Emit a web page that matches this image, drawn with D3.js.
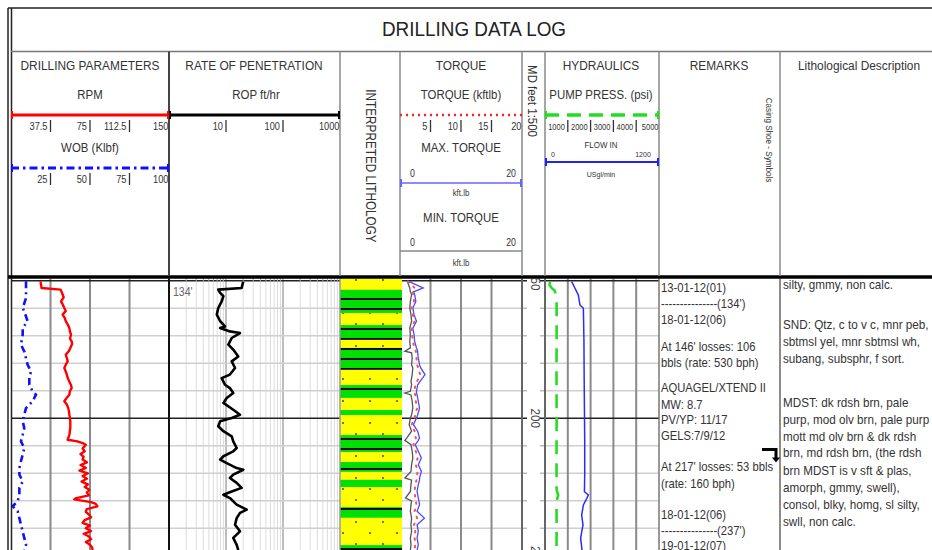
<!DOCTYPE html>
<html><head><meta charset="utf-8">
<script src="https://cdn.jsdelivr.net/npm/d3@7"></script>
<style>
body{margin:0;background:#fff;}
svg{display:block;font-family:'Liberation Sans','Arial',sans-serif;}
</style></head><body>
<svg id="c" width="932" height="550"></svg>
<script>
// ---------------- DATA ----------------
const title = "DRILLING DATA LOG";
const trackTitles = ["DRILLING PARAMETERS","RATE OF PENETRATION","TORQUE","HYDRAULICS","REMARKS","Lithological Description"];
const rpmTicks = [37.5, 75, 112.5, 150];
const wobTicks = [25, 50, 75, 100];
const ropTicks = [10, 100, 1000];
const torqueTicks = [5, 10, 15, 20];
const pumpTicks = [1000, 2000, 3000, 4000, 5000];
const depthLabels = [150, 200, 250];

// [depth ft, RPM]
const rpmData = [[150.2,28],[152.6,29],[153.2,47],[154,48],[155,49],[156,50],[157.5,47.5],[158.5,49],[159.9,50.6],[161,52],[162.3,49],[163.5,51],[164.7,52],[166,54],[167.2,55.4],[168.5,56],[169.6,57],[171,56],[172,57.6],[173,58],[174.4,56.3],[175.5,55],[176.9,52],[178,53],[179.3,53.8],[180.5,52],[181.7,50.6],[183,52],[184.1,53],[185.5,54],[186.6,55.4],[188,57],[189,57.6],[190,56],[191.4,55.4],[192.5,53],[193.8,50.6],[195,53],[196.3,54.4],[197.5,55],[198.7,55.4],[200,56],[201.1,56.3],[202.5,56.3],[203.5,56.3],[205,55.8],[206,55.4],[207.8,53.8],[208.4,63],[209,68],[209.6,71],[211,68],[212,70],[213,66],[214,69],[215,68],[216,72],[217,66],[218,71],[219,65],[220,73],[221,68],[222,72],[223,67],[224,73],[225,70],[226,74.4],[227,72],[228,74],[229,62],[229.5,60],[230.5,76],[231,80],[232,82],[233,72],[234,71],[235,74],[236,76],[237,70],[238,68],[239,75],[240,71],[241,76],[242,69],[243,74],[244,76],[245,71],[246,75],[247,77],[248,77.5]];
// [depth ft, WOB klbf]
const wobData = [[150.2,9.5],[156.3,9.5],[159.9,7.4],[161.1,8.4],[164.7,10.5],[167.2,7.4],[169.6,7.4],[173.2,6.3],[175.7,8.4],[178.1,9.5],[180.5,10.5],[182.9,12.7],[185.3,11.6],[187.8,11.6],[190.2,13.7],[191.4,15.8],[193.8,13.7],[196.3,9.5],[198.7,8.4],[201.1,7.4],[203.5,8.4],[206,7.4],[208.4,6.3],[210.8,8.4],[213.2,7.4],[215.6,6.3],[218.1,5.3],[220.5,5.3],[222.9,7.4],[225.3,5.3],[227.8,5.3],[230.2,4.2],[232,1.0],[233.8,4.2],[236.3,5.3],[238.7,6.3],[241.1,7.4],[243.5,8.4],[246,9.5],[247.9,8.4]];
// [depth ft, ROP ft/hr]
const ropData = [[150.2,20.1],[152.6,18.8],[153.2,7.3],[154.4,7.9],[155.6,9.0],[157.5,8.4],[159.9,7.3],[162.3,6.9],[164.7,7.9],[166.6,9.6],[167.2,7.9],[168.4,11.7],[169,17.6],[170.8,12.6],[173.2,11.0],[175,13.4],[177.5,16.4],[179.3,12.6],[181.7,14.4],[184.1,11.7],[185.4,8.4],[187.8,9.6],[189,11.7],[190.8,13.4],[192.6,10.3],[194.4,9.0],[196.9,13.4],[198.7,17.6],[199.9,12.6],[201.1,7.9],[202.9,7.3],[204.7,9.0],[206.6,12.6],[208.4,13.4],[210.8,15.4],[212,13.4],[213.8,9.0],[215,7.9],[216.3,10.3],[218.1,15.4],[218.7,20.1],[220.5,13.4],[221.7,11.7],[223.5,15.4],[225.3,18.8],[226.6,12.6],[227.8,9.0],[229,11.7],[231.4,15.4],[233.2,23.1],[234.4,17.6],[236.3,15.4],[238.7,14.4],[241.1,17.6],[243.5,13.4],[246,15.4],[247.9,16.4]];
// [depth ft, max torque, min torque, torque] kft.lb
const torqueData = [[150.2,1.4,1.2,1.3],[152.6,3.8,1.6,2.4],[154,2.2,1.7,2.0],[155,2.4,1.9,2.2],[157.5,2.6,1.7,2.3],[159.9,2.1,1.6,1.9],[162.3,2.3,1.8,2.1],[164.7,2.7,1.9,2.4],[167.2,2.1,1.6,1.9],[169.6,2.3,1.7,2.0],[172,2.4,1.6,2.1],[174.4,2.7,1.7,2.4],[175.6,2.9,0.8,2.6],[176.2,2.9,1.9,2.6],[178.1,3.0,2.0,2.7],[180.5,3.2,1.9,2.8],[181.7,3.4,2.1,3.0],[184.1,4.1,2.0,3.3],[186.6,3.3,1.8,2.8],[187.8,2.9,1.9,2.5],[190.2,2.7,1.7,2.4],[190.8,2.7,0.8,2.4],[191.5,2.8,1.8,2.5],[193.8,3.0,2.0,2.6],[196.3,3.2,2.1,2.8],[198.7,2.9,1.9,2.5],[199.9,2.7,1.7,2.4],[202.3,2.2,1.5,1.9],[204.7,2.9,1.9,2.4],[207.2,3.2,1.1,2.6],[208,3.0,0.8,2.5],[209.6,2.5,1.8,2.2],[212,3.0,2.0,2.6],[214.4,3.5,2.1,2.9],[216.9,3.0,1.9,2.6],[219.3,3.5,1.8,2.9],[221.7,3.2,0.8,2.7],[222.5,3.2,1.9,2.7],[224.1,3.0,1.8,2.5],[226.6,2.8,1.7,2.4],[229,3.0,0.9,2.5],[230,3.1,1.9,2.6],[231.4,3.2,1.8,2.7],[233.8,2.8,1.7,2.4],[236.3,4.0,1.9,2.8],[238.7,2.8,1.8,2.3],[241.1,3.0,1.9,2.5],[243.5,2.8,1.7,2.4],[246,3.0,1.8,2.5],[247.9,2.8,1.7,2.4]];
// [depth ft, pump pressure psi]
const pumpData = [[150.3,220],[151.5,200],[152.7,300],[153.5,420],[155.2,480],[157.6,510],[170,510],[185,505],[200,510],[215,505],[226,510],[227.9,580],[229.1,540],[231.5,505],[240,510],[248,505]];
// [depth ft, flow in US gal/min]
const flowData = [[150.3,281],[152.7,316],[155.2,351],[158.8,368],[160,404],[172.1,410],[184.3,412],[196.4,415],[208.5,418],[220.6,418],[226.7,415],[227.9,456],[229.1,440],[231.5,404],[235.2,386],[238.8,400],[243.6,375],[246.8,386],[248,390]];
// [top ft, base ft, lithology]
const lithology = [[149,153.3,"SND"],[153.3,161.7,"MDST"],[161.7,166.1,"SND"],[166.1,171.5,"MDST"],[171.5,174.4,"SND"],[174.4,182.4,"MDST"],[182.4,187.9,"SND"],[187.9,192.6,"MDST"],[192.6,197.0,"SND"],[197.0,198.8,"MDST"],[198.8,206.1,"SND"],[206.1,212.3,"MDST"],[212.3,215.9,"SND"],[215.9,219.5,"MDST"],[219.5,222.4,"SND"],[222.4,225.0,"MDST"],[225.0,232.3,"SND"],[232.3,236.2,"MDST"],[236.2,246.1,"SND"],[246.1,250,"MDST"]];
const casingShoe = [211.3];
// [depth ft, text]
const remarks = [[152.6,"13-01-12(01)"],[158.2,"---------------(134')"],[164,"18-01-12(06)"],[173.8,"At 146' losses: 106"],[179.8,"bbls (rate: 530 bph)"],[188.8,"AQUAGEL/XTEND II"],[195,"MW: 8.7"],[200.6,"PV/YP: 11/17"],[206.4,"GELS:7/9/12"],[217.6,"At 217' losses: 53 bbls"],[223.8,"(rate: 160 bph)"],[235,"18-01-12(06)"],[240.8,"---------------(237')"],[246.4,"19-01-12(07)"]];
const descriptions = [[151.5,"silty, gmmy, non calc."],[166,"SND: Qtz, c to v c, mnr peb,"],[172.2,"sbtmsl yel, mnr sbtmsl wh,"],[178.2,"subang, subsphr, f sort."],[194.2,"MDST: dk rdsh  brn, pale"],[200.4,"purp, mod olv brn, pale purp"],[206.6,"mott md olv brn & dk rdsh"],[212.6,"brn,  md rdsh brn, (the rdsh"],[218.8,"brn MDST is v sft & plas,"],[225,"amorph, gmmy, swell),"],[231.2,"consol, blky, homg, sl silty,"],[237.6,"swll, non calc."]];

// ---------------- SCALES ----------------
const svg = d3.select('#c');
const y = d3.scaleLinear().domain([150, 250]).range([280.8, 555.8]);
const rpmX = d3.scaleLinear().domain([0, 150]).range([11, 169]);
const wobX = d3.scaleLinear().domain([0, 100]).range([11, 169]);
const ropX = d3.scaleLog().domain([1, 1000]).range([169, 340]);
const tqX = d3.scaleLinear().domain([0, 20]).range([400, 522]);
const pumpX = d3.scaleLinear().domain([0, 5000]).range([545, 659]);
const flowX = d3.scaleLinear().domain([0, 1200]).range([545, 659]);
const TXT = '#333';

// condensed text helper (narrow face emulated by horizontal scaling)
function T(g, x, yy, s, fs, anchor, sx, rot, fill) {
  return g.append('text')
    .attr('transform', `translate(${x},${yy})${rot ? ' rotate(' + rot + ')' : ''} scale(${sx || 0.88},1)`)
    .attr('text-anchor', anchor || 'middle').attr('font-size', fs).attr('fill', fill || TXT).text(s);
}

const defs = svg.append('defs');
defs.append('clipPath').attr('id','dataClip').append('rect').attr('x',0).attr('y',278.5).attr('width',932).attr('height',272);
const ps = defs.append('pattern').attr('id','snd').attr('patternUnits','userSpaceOnUse').attr('width',27).attr('height',22).attr('x',340).attr('y',0);
ps.append('rect').attr('width',27).attr('height',22).attr('fill','#ffff00');
ps.append('circle').attr('cx',3).attr('cy',5).attr('r',1.1).attr('fill','#555');
ps.append('circle').attr('cx',16).attr('cy',16).attr('r',1.1).attr('fill','#555');
const pm = defs.append('pattern').attr('id','mdst').attr('patternUnits','userSpaceOnUse').attr('width',20).attr('height',10).attr('x',0).attr('y',2);
pm.append('rect').attr('width',20).attr('height',10).attr('fill','#00e000');
pm.append('rect').attr('y',6).attr('width',20).attr('height',2).attr('fill','#0a0a0a');

// ---------------- DATA AREA ----------------
const data = svg.append('g').attr('clip-path','url(#dataClip)');
const depthTicks = y.ticks(10);
const hTracks = [[11,169],[169,340],[400,522],[545,659]];
const ropGrid = [];
[1,10,100].forEach(b => { for (let k=2;k<=9;k++) ropGrid.push(b*k); });
data.selectAll('.rg').data(ropGrid).enter().append('line')
  .attr('x1',d=>ropX(d)).attr('x2',d=>ropX(d)).attr('y1',278).attr('y2',550)
  .attr('stroke','#dcdcdc').attr('stroke-width',1);
data.selectAll('.rd').data([10,100]).enter().append('line')
  .attr('x1',d=>ropX(d)).attr('x2',d=>ropX(d)).attr('y1',278).attr('y2',550)
  .attr('stroke','#a8a8a8').attr('stroke-width',1.5);
hTracks.forEach(t => {
  data.selectAll(null).data(depthTicks.filter(d=>d%50!==0)).enter().append('line')
    .attr('x1',t[0]).attr('x2',t[1]).attr('y1',d=>y(d)).attr('y2',d=>y(d))
    .attr('stroke','#cfcfcf').attr('stroke-width',1.6);
});
data.selectAll(null).data(rpmTicks.slice(0,3)).enter().append('line')
  .attr('x1',d=>rpmX(d)).attr('x2',d=>rpmX(d)).attr('y1',278).attr('y2',550).attr('stroke','#8a8a8a').attr('stroke-width',2);
data.selectAll(null).data(torqueTicks.slice(0,3)).enter().append('line')
  .attr('x1',d=>tqX(d)).attr('x2',d=>tqX(d)).attr('y1',278).attr('y2',550).attr('stroke','#8a8a8a').attr('stroke-width',2);
data.selectAll(null).data(pumpTicks.slice(0,4)).enter().append('line')
  .attr('x1',d=>pumpX(d)).attr('x2',d=>pumpX(d)).attr('y1',278).attr('y2',550).attr('stroke','#8a8a8a').attr('stroke-width',2);
hTracks.forEach(t => {
  data.selectAll(null).data(depthTicks.filter(d=>d%50===0)).enter().append('line')
    .attr('x1',t[0]).attr('x2',t[1]).attr('y1',d=>y(d)).attr('y2',d=>y(d))
    .attr('stroke','#222').attr('stroke-width',1.5);
});
depthTicks.forEach(d => {
  [[522,527],[540,545]].forEach(s => data.append('line').attr('x1',s[0]).attr('x2',s[1]).attr('y1',y(d)).attr('y2',y(d))
    .attr('stroke', d%50===0?'#222':'#bbb').attr('stroke-width',1.5));
});
data.selectAll('.lith').data(lithology).enter().append('rect')
  .attr('x',340).attr('width',62).attr('y',d=>y(d[0])).attr('height',d=>y(d[1])-y(d[0]))
  .attr('fill',d=>d[2]==='SND'?'url(#snd)':'url(#mdst)');
[[169,'#111',2],[340,'#999',1.5],[522,'#666',2],[545,'#666',2],[659,'#777',1.5],[780,'#666',1.5]].forEach(b=>{
  data.append('line').attr('x1',b[0]).attr('x2',b[0]).attr('y1',278).attr('y2',550).attr('stroke',b[1]).attr('stroke-width',b[2]);
});
depthLabels.forEach(d => T(data, 531, y(d), String(d), 13, 'middle', 0.9, 90, '#444'));
const mk = (xs, idx) => d3.line().x(d=>xs(d[idx])).y(d=>y(d[0]));
data.append('path').datum(wobData).attr('d',mk(wobX,1)).attr('fill','none').attr('stroke','#1010ff').attr('stroke-width',2.6).attr('stroke-dasharray','7,4,2,4');
data.append('path').datum(rpmData).attr('d',mk(rpmX,1)).attr('fill','none').attr('stroke','#ff0000').attr('stroke-width',2.4).attr('stroke-linejoin','round');
data.append('path').datum(ropData).attr('d',mk(ropX,1)).attr('fill','none').attr('stroke','#000').attr('stroke-width',2.6).attr('stroke-linejoin','round');
data.append('path').datum(torqueData).attr('d',mk(tqX,2)).attr('fill','none').attr('stroke','#555').attr('stroke-width',1.3);
data.append('path').datum(torqueData).attr('d',mk(tqX,1)).attr('fill','none').attr('stroke','#4a4aff').attr('stroke-width',1.3);
data.append('path').datum(torqueData).attr('d',mk(tqX,3)).attr('fill','none').attr('stroke','#ff5050').attr('stroke-width',2).attr('stroke-dasharray','1.5,6').attr('stroke-linecap','round');
data.append('path').datum(pumpData).attr('d',mk(pumpX,1)).attr('fill','none').attr('stroke','#22dd22').attr('stroke-width',2.6).attr('stroke-dasharray','14,9');
data.append('path').datum(flowData).attr('d',mk(flowX,1)).attr('fill','none').attr('stroke','#2a2aff').attr('stroke-width',1.5);
T(data, 173, y(150)+15, "134'", 12, 'start', 0.88, 0, '#666');
casingShoe.forEach(d => {
  const yy = y(d);
  data.append('path').attr('d',`M762,${yy} H776 V${yy+9}`).attr('fill','none').attr('stroke','#000').attr('stroke-width',3);
  data.append('path').attr('d',`M772,${yy+8} L780,${yy+8} L776,${yy+13} Z`).attr('fill','#000');
});
remarks.forEach(r => T(data, 661, y(r[0])+4.5, r[1], 12.5, 'start', 0.9));
descriptions.forEach(r => T(data, 783, y(r[0])+4.5, r[1], 13, 'start', 0.9));

// ---------------- HEADER ----------------
const hdr = svg.append('g');
hdr.selectAll(null).data(ropGrid).enter().append('line')
  .attr('x1',d=>ropX(d)).attr('x2',d=>ropX(d)).attr('y1',278).attr('y2',282).attr('stroke','#aaa').attr('stroke-width',1);
hdr.append('line').attr('x1',8).attr('x2',932).attr('y1',8).attr('y2',8).attr('stroke','#222').attr('stroke-width',1.5);
hdr.append('line').attr('x1',8).attr('x2',8).attr('y1',8).attr('y2',550).attr('stroke','#222').attr('stroke-width',1.5);
hdr.append('line').attr('x1',11.5).attr('x2',11.5).attr('y1',8).attr('y2',550).attr('stroke','#222').attr('stroke-width',1.5);
hdr.append('line').attr('x1',11).attr('x2',932).attr('y1',51.5).attr('y2',51.5).attr('stroke','#777').attr('stroke-width',1.5);
hdr.append('line').attr('x1',8).attr('x2',932).attr('y1',277).attr('y2',277).attr('stroke','#000').attr('stroke-width',3.5);
T(hdr, 474, 36, title, 21, 'middle', 0.9, 0, '#222');
[[169,'#444',2],[340,'#888',1.5],[400,'#888',1.5],[522,'#888',1.5],[545,'#888',1.5],[659,'#888',1.5],[780,'#888',1.5]].forEach(b=>{
  hdr.append('line').attr('x1',b[0]).attr('x2',b[0]).attr('y1',51.5).attr('y2',276).attr('stroke',b[1]).attr('stroke-width',b[2]);
});
const ht = (x, yy, s, fs, anchor) => T(hdr, x, yy, s, fs, anchor, 0.88);
const titleX = [90, 254, 461, 601, 719, 859];
trackTitles.forEach((s,i) => ht(titleX[i], 70, s, 13.5));
ht(90, 99, 'RPM', 13); ht(256, 99, 'ROP ft/hr', 13); ht(461, 99, 'TORQUE (kftlb)', 13); ht(601, 99, 'PUMP PRESS. (psi)', 13);
ht(90, 152, 'WOB (Klbf)', 13);
ht(461, 152, 'MAX. TORQUE', 13); ht(461, 222, 'MIN. TORQUE', 13);
ht(410, 177, '0', 10, 'start'); ht(516, 177, '20', 10, 'end');
ht(410, 246, '0', 10, 'start'); ht(516, 246, '20', 10, 'end');
ht(461, 196, 'kft.lb', 9); ht(461, 266, 'kft.lb', 9);
ht(601, 148, 'FLOW IN', 9); ht(553, 157, '0', 8); ht(643, 157, '1200', 8); ht(601, 177, 'USgl/min', 8);
T(hdr, 366, 166, 'INTERPRETED LITHOLOGY', 14, 'middle', 0.84, 90);
T(hdr, 528, 101, 'MD feet 1:500', 13, 'middle', 0.88, 90);
T(hdr, 766, 140, 'Casing Shoe - Symbols', 9, 'middle', 0.9, 90);
const leg = (x1,x2,yy,col,w,dash,cap) => {
  hdr.append('line').attr('x1',x1).attr('x2',x2).attr('y1',yy).attr('y2',yy).attr('stroke',col).attr('stroke-width',w).attr('stroke-dasharray',dash||null);
  if (cap) [x1+1,x2-1].forEach(cx=>hdr.append('line').attr('x1',cx).attr('x2',cx).attr('y1',yy-4).attr('y2',yy+4).attr('stroke',col).attr('stroke-width',2));
};
leg(11,169,115,'#ff0000',3,null,true);
leg(169,340,115,'#000',3,null,true);
leg(11,169,168,'#1010ff',3,'8,4,2.5,4',true);
leg(400,522,115,'#ff2020',2.6,'2,4',false);
leg(400,522,183,'#6666ff',1.6,null,true);
leg(400,522,251,'#888',1.5,null,false);
leg(545,659,115,'#22dd22',3.5,'14,8',true);
leg(545,659,162,'#2020ff',1.8,null,true);
const tickRow = (ticks, xs, yy, fs) => {
  ticks.forEach((t,i) => {
    const last = i === ticks.length-1;
    const px = xs(t);
    ht(last ? px-0.5 : px-3, yy, String(t), fs, 'end');
    if (!last) hdr.append('line').attr('x1',px).attr('x2',px).attr('y1',yy-10).attr('y2',yy+2).attr('stroke','#333').attr('stroke-width',1.3);
  });
};
tickRow(rpmTicks, rpmX, 130, 10.5);
tickRow(wobTicks, wobX, 183, 10.5);
tickRow(ropTicks, ropX, 130, 10.5);
tickRow(torqueTicks, tqX, 130, 10.5);
tickRow(pumpTicks, pumpX, 130, 8.5);
</script>
</body></html>
